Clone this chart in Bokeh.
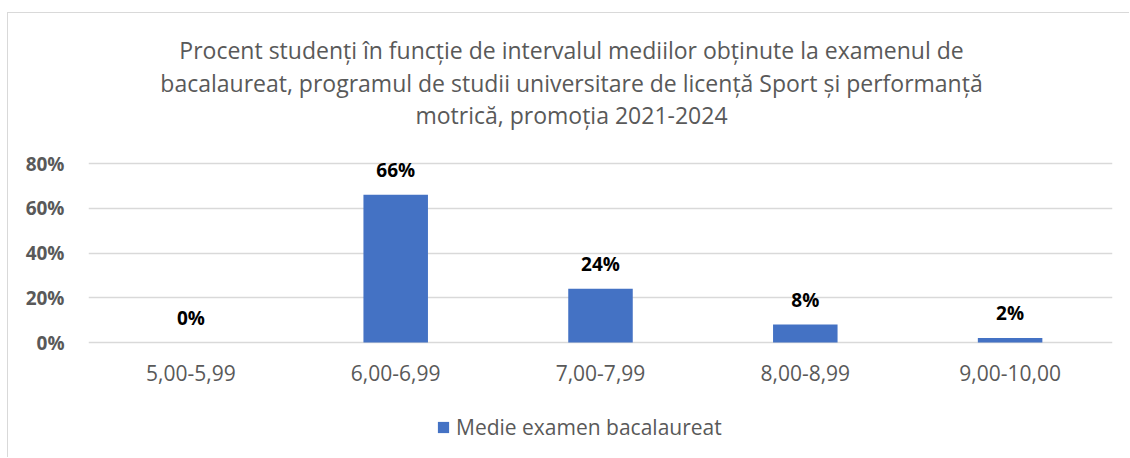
from bokeh.plotting import figure
from bokeh.models import (ColumnDataSource, Range1d, FixedTicker, PrintfTickFormatter,
                          Label, LabelSet, Legend, LegendItem)
from bokeh.core.properties import value
from bokeh.embed import file_html
from bokeh.resources import INLINE

# ---- data ----
categories = ["5,00-5,99", "6,00-6,99", "7,00-7,99", "8,00-8,99", "9,00-10,00"]
values = [0, 66, 24, 8, 2]
value_labels = ["0%", "66%", "24%", "8%", "2%"]
y_ticks = [0, 20, 40, 60, 80]
title_lines = [
    "Procent studenți în funcție de intervalul mediilor obținute la examenul de",
    "bacalaureat, programul de studii universitare de licență Sport și performanță",
    "motrică, promoția 2021-2024",
]
series_name = "Medie examen bacalaureat"

FONT = "Open Sans"
GRAY = "#595959"
BAR = "#4472C4"

OX, OY = 8, 13               # page position of the canvas (inside the chart-box border)
W, H = 1130 - OX, 458 - OY
K = 2.2375                   # px per percentage point
Y0 = 342                     # page row of 0%

def ydata(py):
    return (Y0 - py) / K

src = ColumnDataSource(dict(cat=categories, val=values, lab=value_labels))

p = figure(x_range=categories, y_range=Range1d(ydata(OY + H), ydata(OY)), width=W, height=H,
           output_backend="svg", toolbar_location=None, tools="",
           min_border_left=88 - OX, min_border_right=18, min_border_top=0,
           min_border_bottom=0)
p.styles = {"margin-left": f"{OX - 1}px", "margin-top": f"{OY - 1}px",
            "border-left": "1px solid #D9D9D9", "border-top": "1px solid #D9D9D9"}
p.outline_line_color = None
p.background_fill_color = "white"
p.border_fill_color = "white"

r = p.vbar(x="cat", top="val", width=0.315, source=src, fill_color=BAR, line_color=None)

# axes
p.yaxis.ticker = FixedTicker(ticks=y_ticks)
p.yaxis.formatter = PrintfTickFormatter(format="%d%%")
p.yaxis.axis_line_color = None
p.yaxis.major_tick_line_color = None
p.yaxis.minor_tick_line_color = None
p.yaxis.major_label_standoff = 18
p.yaxis.major_label_text_font = FONT
p.yaxis.major_label_text_font_style = "bold"
p.yaxis.major_label_text_font_size = "19px"
p.yaxis.major_label_text_color = GRAY

p.xaxis.fixed_location = 0
p.xaxis.axis_line_color = None
p.xaxis.major_tick_line_color = None
p.xaxis.minor_tick_line_color = None
p.xaxis.major_label_standoff = 16
p.xaxis.major_label_text_font = FONT
p.xaxis.major_label_text_font_size = "21px"
p.xaxis.major_label_text_color = GRAY

p.xgrid.grid_line_color = None
p.ygrid.ticker = FixedTicker(ticks=y_ticks)
p.ygrid.grid_line_color = "#D9D9D9"
p.ygrid.grid_line_width = 1.3

# value labels
labels = LabelSet(x="cat", y="val", text="lab", source=src, text_align="center",
                  text_baseline="alphabetic", y_offset=18, text_font=value(FONT),
                  text_font_style="bold", text_font_size="19px", text_color="black")
p.add_layout(labels)

# title (three lines)
title_x = (571 - 88) / 204.8
title_py = [49, 82, 114]
for line, py in zip(title_lines, title_py):
    p.add_layout(Label(x=title_x, y=ydata(py), text=line, text_align="center",
                       text_baseline="middle", text_font=FONT,
                       text_font_size="23px", text_color=GRAY))

# legend
legend = Legend(items=[LegendItem(label=series_name, renderers=[r])],
                location=(436 - 88, 17), orientation="horizontal",
                glyph_width=14, glyph_height=14, label_standoff=6,
                padding=0, margin=0, border_line_color=None,
                background_fill_alpha=0, label_text_font=FONT,
                label_text_font_size="21px", label_text_color=GRAY)
p.add_layout(legend, "center")

open("out.html", "w").write(file_html(p, INLINE))
